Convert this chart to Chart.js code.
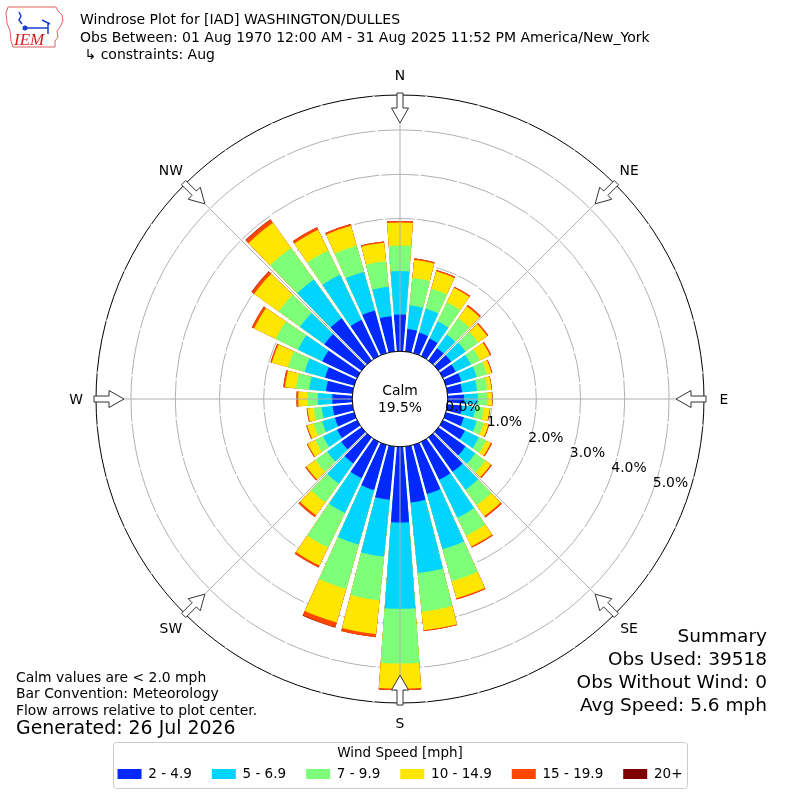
<!DOCTYPE html>
<html>
<head>
<meta charset="utf-8">
<script src="https://cdn.jsdelivr.net/npm/chart.js@4.4.1/dist/chart.umd.min.js"></script>
<style>
html,body{margin:0;padding:0;background:#fff;}
</style>
</head>
<body>
<canvas id="rose" width="800" height="800"></canvas>
<script>
// direction bins (degrees, centre of each 10 degree sector)
const directions = [0,10,20,30,40,50,60,70,80,90,100,110,120,130,140,150,160,170,
  180,190,200,210,220,230,240,250,260,270,280,290,300,310,320,330,340,350];
const speedBins = ["2 - 4.9","5 - 6.9","7 - 9.9","10 - 14.9","15 - 19.9","20+"];
const binColors = ["#0028ff","#00d4ff","#7dff7a","#ffe600","#ff4700","#800000"];

// frequency (%) per direction for each speed bin
const speed2to5 = [0.83,0.51,0.48,0.44,0.34,0.35,0.32,0.36,0.33,0.37,0.33,0.42,0.55,0.75,0.95,0.95,1.15,1.27,
  1.71,1.21,1.06,0.91,0.72,0.56,0.50,0.45,0.45,0.45,0.60,0.68,0.87,1.03,1.17,0.91,1.00,0.80];
const speed5to7 = [0.98,0.54,0.56,0.43,0.38,0.40,0.38,0.36,0.34,0.31,0.30,0.30,0.35,0.27,0.50,0.95,1.30,1.60,
  1.95,1.29,1.28,0.87,0.56,0.39,0.35,0.30,0.25,0.33,0.38,0.48,0.61,0.68,1.08,1.13,0.91,0.67];
const speed7to10 = [0.58,0.62,0.47,0.48,0.45,0.35,0.23,0.24,0.23,0.22,0.19,0.16,0.18,0.28,0.43,0.45,0.75,0.88,
  1.24,0.99,1.04,0.87,0.52,0.33,0.20,0.20,0.18,0.22,0.30,0.39,0.56,0.59,0.88,0.61,0.61,0.58];
const speed10to15 = [0.52,0.41,0.41,0.36,0.33,0.25,0.25,0.11,0.10,0.10,0.14,0.12,0.12,0.15,0.30,0.27,0.40,0.42,
  0.57,0.77,0.79,0.45,0.36,0.25,0.19,0.15,0.14,0.22,0.25,0.38,0.54,0.68,0.70,0.52,0.47,0.42];
const speed15to20 = [0.03,0.03,0.03,0.03,0.04,0.03,0.03,0.02,0.01,0.01,0.01,0.02,0.03,0.03,0.04,0.03,0.03,0.02,
  0.03,0.07,0.11,0.05,0.05,0.03,0.02,0.02,0.02,0.04,0.04,0.03,0.06,0.07,0.09,0.06,0.04,0.03];
const speed20up = [0,0,0,0,0,0,0,0,0,0,0,0,0,0,0,0,0,0,
  0,0,0.01,0,0,0,0,0,0,0,0,0,0,0.01,0.01,0,0,0];

const ringTicks = [0,1,2,3,4,5];
const rMin = -1.08, rMax = 5.79;
const compassLabels = ["N","NE","E","SE","S","SW","W","NW"];
const calmPercent = 19.5;
const headerLines = ["Windrose Plot for [IAD] WASHINGTON/DULLES",
  "Obs Between: 01 Aug 1970 12:00 AM - 31 Aug 2025 11:52 PM America/New_York",
  " \u21b3 constraints: Aug"];
const noteLines = ["Calm values are < 2.0 mph","Bar Convention: Meteorology","Flow arrows relative to plot center."];
const generatedText = "Generated: 26 Jul 2026";
const summaryLines = ["Summary","Obs Used: 39518","Obs Without Wind: 0","Avg Speed: 5.6 mph"];

// stack the bins: each dataset holds the running total, smaller totals drawn on top
const bins = [speed2to5,speed5to7,speed7to10,speed10to15,speed15to20,speed20up];
let running = directions.map(() => 0);
const datasets = bins.map((vals, k) => {
  running = running.map((s, i) => s + vals[i]);
  return {label: speedBins[k], data: running.slice(), backgroundColor: binColors[k], borderWidth: 0};
});

const FONT = "'DejaVu Sans', sans-serif";
Chart.defaults.font.family = FONT;
Chart.defaults.color = "#000";

function polar(cx, cy, r, deg) {
  const a = deg * Math.PI / 180;
  return [cx + r * Math.sin(a), cy - r * Math.cos(a)];
}

function drawLogo(ctx) {
  ctx.save();
  ctx.strokeStyle = "#e06060";
  ctx.lineWidth = 1;
  ctx.beginPath();
  const pts = [[8,7],[56,7],[58,11],[62,15],[63,21],[60,27],[57,31],[58,37],[55,41],[55,47],[13,47],[11,41],[10,31],[7,23],[6,13]];
  pts.forEach((p, i) => i ? ctx.lineTo(p[0], p[1]) : ctx.moveTo(p[0], p[1]));
  ctx.closePath();
  ctx.stroke();
  ctx.strokeStyle = "#1a3fd0";
  ctx.fillStyle = "#1a3fd0";
  ctx.lineWidth = 1.5;
  ctx.beginPath();
  ctx.moveTo(19,12); ctx.lineTo(21,16); ctx.lineTo(19,20); ctx.lineTo(22,24);
  ctx.moveTo(24,28); ctx.lineTo(48,28);
  ctx.moveTo(48,22); ctx.lineTo(48,34);
  ctx.moveTo(42,20); ctx.lineTo(50,24);
  ctx.stroke();
  ctx.beginPath(); ctx.arc(25,28,2.5,0,Math.PI*2); ctx.fill();
  ctx.fillStyle = "#d42020";
  ctx.font = "italic 17px 'Liberation Serif', serif";
  ctx.textAlign = "left";
  ctx.textBaseline = "alphabetic";
  ctx.fillText("IEM", 14, 45);
  ctx.restore();
}

function drawArrow(ctx, cx, cy, R, deg) {
  const shape = [[R-28,0],[R-13,8.5],[R-13,3],[R+2,3],[R+2,-3],[R-13,-3],[R-13,-8.5]];
  const a = deg * Math.PI / 180;
  ctx.beginPath();
  shape.forEach(([u, v], i) => {
    const x = cx + u * Math.sin(a) + v * Math.cos(a);
    const y = cy - u * Math.cos(a) + v * Math.sin(a);
    i ? ctx.lineTo(x, y) : ctx.moveTo(x, y);
  });
  ctx.closePath();
  ctx.fillStyle = "#fff";
  ctx.fill();
  ctx.strokeStyle = "#333";
  ctx.lineWidth = 1;
  ctx.stroke();
}

const roseDecor = {
  id: "roseDecor",
  afterDatasetsUpdate(chart) {
    // narrow each sector so the bars stand apart
    chart.data.datasets.forEach((ds, k) => {
      chart.getDatasetMeta(k).data.forEach(arc => {
        const mid = (arc.startAngle + arc.endAngle) / 2;
        const half = (arc.endAngle - arc.startAngle) / 2 * 0.84;
        arc.startAngle = mid - half;
        arc.endAngle = mid + half;
        if (arc.circumference !== undefined) arc.circumference = 2 * half;
      });
    });
  },
  beforeDraw(chart) {
    const ctx = chart.ctx;
    ctx.save();
    ctx.strokeStyle = "#cccccc";
    ctx.lineWidth = 1;
    ctx.beginPath();
    ctx.roundRect(113.5, 742.5, 574, 46, 3);
    ctx.stroke();
    ctx.restore();
  },
  afterDatasetsDraw(chart) {
    const s = chart.scales.r, ctx = chart.ctx;
    const cx = s.xCenter, cy = s.yCenter, R = s.drawingArea;
    const r0 = s.getDistanceFromCenterForValue(0);
    ctx.save();
    ctx.strokeStyle = "#fff";
    ctx.lineWidth = 2;
    directions.forEach(d => {
      const p1 = polar(cx, cy, r0, d + 5), p2 = polar(cx, cy, R, d + 5);
      ctx.beginPath(); ctx.moveTo(p1[0], p1[1]); ctx.lineTo(p2[0], p2[1]); ctx.stroke();
    });
    ctx.strokeStyle = "#b0b0b0";
    ctx.lineWidth = 1;
    compassLabels.forEach((_, i) => {
      const p1 = polar(cx, cy, r0, i * 45), p2 = polar(cx, cy, R, i * 45);
      ctx.beginPath(); ctx.moveTo(p1[0], p1[1]); ctx.lineTo(p2[0], p2[1]); ctx.stroke();
    });
    ctx.restore();
  },
  afterDraw(chart) {
    const s = chart.scales.r, ctx = chart.ctx;
    const cx = s.xCenter, cy = s.yCenter, R = s.drawingArea;
    const r0 = s.getDistanceFromCenterForValue(0);
    ctx.save();
    // calm circle
    ctx.beginPath();
    ctx.arc(cx, cy, r0, 0, Math.PI * 2);
    ctx.fillStyle = "#fff";
    ctx.fill();
    ctx.strokeStyle = "#000";
    ctx.lineWidth = 1;
    ctx.stroke();
    ctx.fillStyle = "#000";
    ctx.textAlign = "center";
    ctx.textBaseline = "middle";
    ctx.font = "13.9px " + FONT;
    ctx.fillText("Calm", cx, cy - 8);
    ctx.fillText(calmPercent.toFixed(1) + "%", cx, cy + 9);
    // ring labels
    ringTicks.forEach(v => {
      const d = s.getDistanceFromCenterForValue(v);
      ctx.fillText(v.toFixed(1) + "%", cx + d * 0.9385 + 18, cy + d * 0.345 - 8);
    });
    // flow arrows and compass labels
    compassLabels.forEach((lab, i) => {
      drawArrow(ctx, cx, cy, R, i * 45);
      const p = polar(cx, cy, R + 20, i * 45);
      ctx.fillStyle = "#000";
      ctx.fillText(lab, p[0], p[1] + 1);
    });
    // header
    drawLogo(ctx);
    ctx.fillStyle = "#000";
    ctx.textAlign = "left";
    ctx.font = "14px " + FONT;
    headerLines.forEach((t, i) => ctx.fillText(t, 80, 20.5 + i * 17.5));
    // notes
    ctx.font = "13.9px " + FONT;
    noteLines.forEach((t, i) => ctx.fillText(t, 16, 678 + i * 16.5));
    ctx.font = "18.9px " + FONT;
    ctx.fillText(generatedText, 16, 729);
    // summary
    ctx.textAlign = "right";
    ctx.font = "18.5px " + FONT;
    summaryLines.forEach((t, i) => ctx.fillText(t, 767, 637 + i * 23.2));
    ctx.restore();
  }
};

new Chart(document.getElementById("rose"), {
  type: "polarArea",
  data: {labels: directions.map(String), datasets: datasets},
  options: {
    responsive: false,
    animation: false,
    layout: {padding: {left: 95, right: 95, top: 95, bottom: 9.25}},
    scales: {
      r: {
        min: rMin,
        max: rMax,
        startAngle: -5,
        z: 1,
        afterBuildTicks: sc => { sc.ticks = ringTicks.concat([rMax]).map(v => ({value: v})); },
        ticks: {display: false},
        grid: {
          circular: true,
          color: c => c.tick.value === rMax ? "#000" : (c.tick.value === 0 ? "rgba(0,0,0,0)" : "#b0b0b0"),
          lineWidth: 1
        },
        angleLines: {display: false},
        pointLabels: {display: false}
      }
    },
    plugins: {
      tooltip: {enabled: false},
      legend: {
        position: "bottom",
        labels: {
          boxWidth: 24,
          boxHeight: 10,
          padding: 20,
          color: "#000",
          font: {size: 13.5},
          generateLabels: ch => ch.data.datasets.map((ds, i) => ({
            text: ds.label, fillStyle: ds.backgroundColor, strokeStyle: ds.backgroundColor,
            lineWidth: 0, hidden: false, datasetIndex: i, fontColor: "#000"
          }))
        },
        title: {
          display: true,
          text: "Wind Speed [mph]",
          color: "#000",
          font: {size: 13.5, lineHeight: 1},
          padding: {top: 43, bottom: -12.5}
        }
      }
    }
  },
  plugins: [roseDecor]
});
</script>
</body>
</html>
